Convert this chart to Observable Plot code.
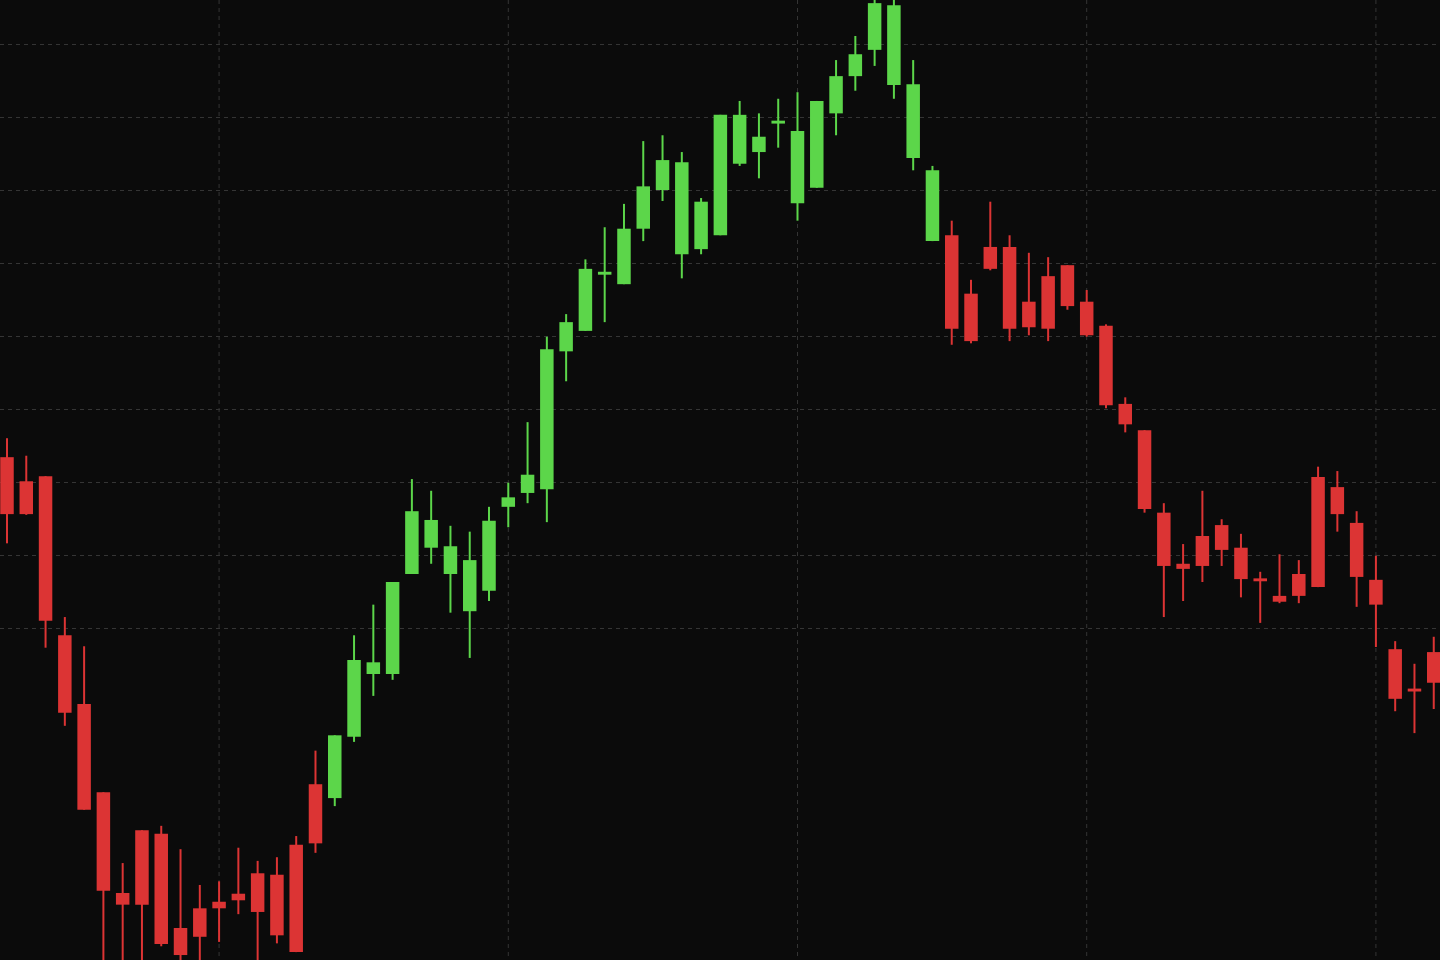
<!DOCTYPE html>
<html>
<head>
<meta charset="utf-8">
<script src="https://cdn.jsdelivr.net/npm/d3@7"></script>
<script src="https://cdn.jsdelivr.net/npm/@observablehq/plot@0.6"></script>
<style>
  html, body { margin: 0; padding: 0; background: #0b0b0b; overflow: hidden; }
  #chart svg { display: block; }
</style>
</head>
<body>
<div id="chart"></div>
<script>
// ---- Data ----
const highs = [
  126.0,123.6,120.8,101.5,97.5,77.5,67.8,72.3,72.9,69.7,64.8,65.3,69.9,68.1,68.6,71.5,83.2,
  85.3,99.0,103.2,106.3,120.4,118.8,114.0,113.2,116.6,119.9,128.2,139.9,143.0,150.5,154.9,158.1,
  166.7,167.5,165.2,158.9,170.3,172.2,170.5,172.5,173.4,172.2,177.8,181.1,186.5,186.7,177.8,163.3,
  155.8,147.7,158.4,153.8,151.4,150.8,149.7,146.3,141.6,131.6,127.1,117.1,111.5,118.8,114.9,112.9,
  107.7,110.1,109.3,122.1,121.5,116.0,109.9,98.2,95.1,98.8
];
const lows = [
  111.6,115.5,97.3,86.6,75.1,52.5,53.0,53.8,56.4,52.5,53.4,57.0,60.8,53.8,56.8,55.6,69.2,
  75.6,84.4,90.7,92.9,107.4,108.8,102.1,95.9,103.7,113.8,117.1,114.5,133.8,140.7,141.9,147.1,
  153.0,158.5,147.9,151.2,153.8,163.3,161.6,165.8,155.8,160.3,167.5,173.6,177.0,172.5,162.7,153.0,
  138.8,139.0,149.0,139.3,140.1,139.3,143.6,139.9,130.1,126.8,115.8,101.5,103.7,106.3,108.5,104.2,
  100.7,103.4,103.4,105.6,113.2,102.9,97.4,88.6,85.6,88.9
];
const opens = [
  123.4,120.1,120.8,99.0,89.6,77.5,63.7,72.3,71.8,58.9,61.6,62.5,63.6,66.4,66.2,70.3,78.6,
  76.7,85.1,93.7,93.7,107.4,111.0,107.4,102.3,105.1,116.6,118.5,119.0,137.9,140.7,148.4,147.1,
  154.7,160.0,151.2,151.9,153.8,163.6,165.2,169.1,158.2,160.3,170.5,175.6,179.2,174.4,164.4,153.0,
  153.8,145.8,152.2,152.2,144.7,148.2,149.7,144.7,141.4,130.7,127.1,115.8,108.8,112.6,114.1,111.0,
  106.8,104.4,107.4,120.7,119.3,114.4,106.6,97.1,91.7,96.7
];
const closes = [
  115.6,115.6,101.0,88.4,75.1,64.0,62.1,62.1,56.7,55.2,57.7,61.6,62.7,61.1,57.9,55.6,70.5,
  85.3,95.6,95.3,106.3,116.0,114.8,111.2,109.3,114.7,117.9,121.0,138.2,141.9,149.2,148.8,154.7,
  160.5,164.1,163.8,158.4,170.3,170.3,167.3,169.5,168.1,172.2,175.6,178.6,185.6,185.3,174.5,162.7,
  141.0,139.3,149.2,141.0,141.2,141.0,144.1,140.1,130.5,127.9,116.3,108.5,108.1,108.5,110.7,106.7,
  106.4,103.6,104.4,105.6,115.6,107.0,103.2,90.3,91.3,92.5
];
// trend regimes: index where each segment starts, and its trend
const segmentStarts = [0, 17, 49];
const segmentTrends = ["down", "up", "down"];
const trendNames = ["down", "up"];
const trendColors = ["#dc3434", "#5cd64a"];
// grid positions
const priceGrid = [100, 110, 120, 130, 140, 150, 160, 170, 180];
const timeGrid = [11, 26, 41, 56, 71];

// ---- Build table ----
const candles = highs.map((h, i) => {
  let seg = 0;
  for (let s = 0; s < segmentStarts.length; s++) if (i >= segmentStarts[s]) seg = s;
  return { i, high: h, low: lows[i], open: opens[i], close: closes[i], trend: segmentTrends[seg] };
});

const gridColor = "#353535";

const chart = Plot.plot({
  width: 1440,
  height: 960,
  margin: 0,
  style: { background: "#0b0b0b" },
  x: { domain: [-0.337, 74.35], axis: null },
  y: { domain: [54.52, 186.03], axis: null },
  color: { domain: trendNames, range: trendColors },
  marks: [
    Plot.ruleY(priceGrid, { stroke: gridColor, strokeWidth: 1, strokeDasharray: "4,4" }),
    Plot.ruleX(timeGrid, { stroke: gridColor, strokeWidth: 1, strokeDasharray: "4,4" }),
    Plot.ruleX(candles, { x: "i", y1: "low", y2: "high", stroke: "trend", strokeWidth: 2, clip: true }),
    Plot.ruleX(candles, { x: "i", y1: "open", y2: "close", stroke: "trend", strokeWidth: 13.5, strokeLinecap: "butt", clip: true })
  ]
});
document.getElementById("chart").appendChild(chart);
</script>
</body>
</html>
